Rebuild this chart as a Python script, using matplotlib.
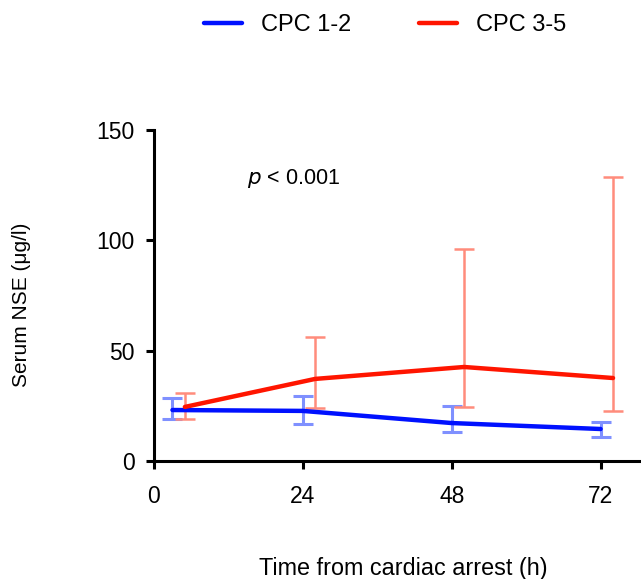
import matplotlib
matplotlib.use("Agg")
import matplotlib.pyplot as plt
from matplotlib.lines import Line2D

plt.rcParams['font.family'] = ['Liberation Sans', 'DejaVu Sans']

# Data
hours_good = [3, 24, 48, 72]
nse_good = [23.1, 22.7, 17.2, 14.5]
upper_good = [28.5, 29.5, 24.9, 17.7]
lower_good = [19.0, 16.8, 13.1, 10.9]

hours_poor = [5, 26, 50, 74]
nse_poor = [24.5, 37.2, 42.6, 37.6]
upper_poor = [30.8, 56.2, 96.1, 128.7]
lower_poor = [19.0, 24.0, 24.5, 22.7]

xticks = [0, 24, 48, 72]
yticks = [0, 50, 100, 150]
labels = ["CPC 1-2", "CPC 3-5"]

W, H = 641, 579
fig = plt.figure(figsize=(6.41, 5.79), dpi=100)
ax = fig.add_axes([0.240, 0.2038, 0.758, 0.5717])

blue = "#0011ff"
red = "#ff1500"
blue_err = "#7f90ff"
red_err = "#ff8c7c"

err_g = [[m - l for m, l in zip(nse_good, lower_good)], [u - m for m, u in zip(nse_good, upper_good)]]
ax.errorbar(hours_good, nse_good, yerr=err_g, fmt='none', ecolor=blue_err, elinewidth=2.2,
            capsize=7, capthick=2.2, zorder=2)
err_p = [[m - l for m, l in zip(nse_poor, lower_poor)], [u - m for m, u in zip(nse_poor, upper_poor)]]
ax.errorbar(hours_poor, nse_poor, yerr=err_p, fmt='none', ecolor=red_err, elinewidth=1.8,
            capsize=7, capthick=1.8, zorder=2)

ax.plot(hours_good, nse_good, color=blue, lw=3.2, solid_capstyle='round', zorder=3)
ax.plot(hours_poor, nse_poor, color=red, lw=3.2, solid_capstyle='round', zorder=3)

ax.set_xlim(0, 78.3)
ax.set_ylim(0, 150)
ax.set_xticks(xticks)
ax.set_yticks(yticks)
ax.spines['top'].set_visible(False)
ax.spines['right'].set_visible(False)
for s in ['left', 'bottom']:
    ax.spines[s].set_linewidth(2.2)
ax.tick_params(axis='both', width=2.2, length=6, labelsize=16.5, direction='out')
ax.tick_params(axis='y', pad=8)
ax.tick_params(axis='x', pad=11)

fig.text(403 / W, 1 - 569 / H, "Time from cardiac arrest (h)", fontsize=16.8, ha='center', va='center')
fig.text(22 / W, 1 - 305 / H, "Serum NSE (μg/l)", fontsize=15, ha='center', va='center', rotation=90)

ax.text(15.0, 128, r"$\it{p}$ < 0.001", fontsize=15.5, va='center', ha='left')

handles = [Line2D([0], [0], color=blue, lw=3.2, solid_capstyle='round'),
           Line2D([0], [0], color=red, lw=3.2, solid_capstyle='round')]
fig.legend(handles, labels, loc='center', bbox_to_anchor=(385 / W, 1 - 25 / H), ncol=2, frameon=False,
           fontsize=17, handlelength=1.6, columnspacing=2.9, handletextpad=0.8)

fig.savefig("out.png", dpi=100)
